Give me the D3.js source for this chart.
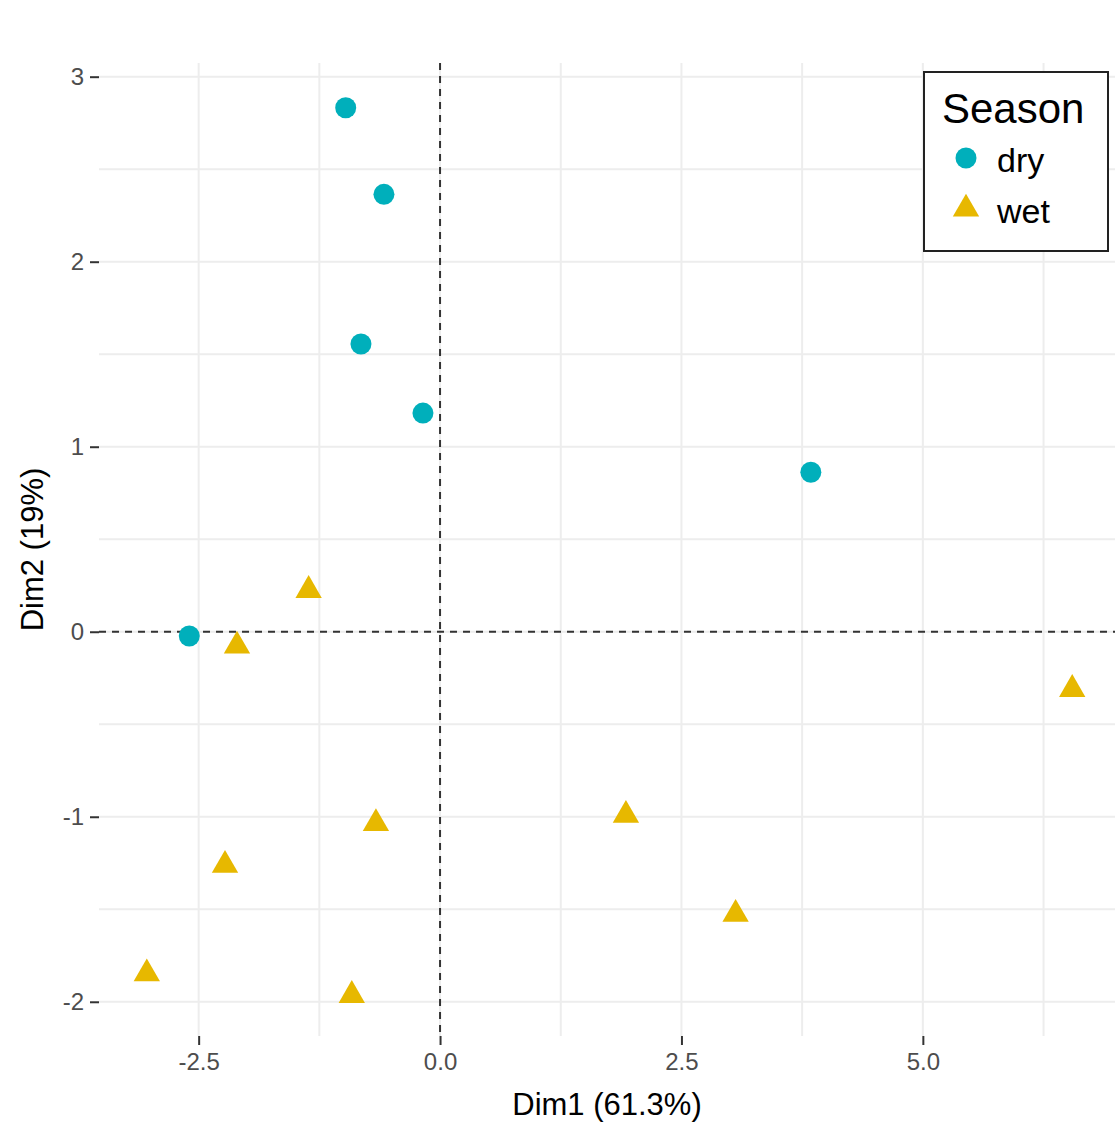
<!DOCTYPE html>
<html>
<head>
<meta charset="utf-8">
<script src="https://cdn.jsdelivr.net/npm/d3@7"></script>
<style>
  body { margin: 0; background: #fff; }
  text { font-family: "Liberation Sans", Arial, sans-serif; }
</style>
</head>
<body>
<svg></svg>
<script>
// data
var seasons = ["dry", "wet"]
var dryDim1 = [-0.977, -0.581, -0.819, -0.177, 3.840, -2.597]
var dryDim2 = [2.832, 2.364, 1.555, 1.182, 0.862, -0.023]
var wetDim1 = [-1.361, -2.103, 6.547, 1.925, -0.664, -2.227, 3.061, -3.037, -0.914]
var wetDim2 = [0.224, -0.077, -0.311, -0.991, -1.036, -1.262, -1.526, -1.848, -1.965]
var xTicks = [-2.5, 0, 2.5, 5]
var xMinor = [-1.25, 1.25, 3.75, 6.25]
var yTicks = [-2, -1, 0, 1, 2, 3]
var yMinor = [-1.5, -0.5, 0.5, 1.5, 2.5]

var colors = {dry: "#00AFBB", wet: "#E7B800"}

var svg = d3.select('svg')
.attr('width', 1119)
.attr('height', 1124)

// panel edges
var pLeft = 99, pRight = 1115, pTop = 63, pBottom = 1036

var x = d3.scaleLinear()
.domain([-3.532, 6.99])
.range([pLeft, pRight]);
var y = d3.scaleLinear()
.domain([-2.185, 3.074])
.range([pBottom, pTop]);

// grid lines
var grid = svg.append('g')
grid.selectAll('.vx')
.data(xTicks.concat(xMinor))
.enter().append('line')
.attr('x1', d => x(d)).attr('x2', d => x(d))
.attr('y1', pTop).attr('y2', pBottom)
.attr('stroke', '#EDEDED')
.attr('stroke-width', 2)
grid.selectAll('.hy')
.data(yTicks.concat(yMinor))
.enter().append('line')
.attr('x1', pLeft).attr('x2', pRight)
.attr('y1', d => y(d)).attr('y2', d => y(d))
.attr('stroke', '#EDEDED')
.attr('stroke-width', 2)

// axes
var xAxis = d3.axisBottom(x)
.tickValues(xTicks)
.tickSize(9)
.tickPadding(8)
.tickFormat(d => d.toFixed(1));
var yAxis = d3.axisLeft(y)
.tickValues(yTicks)
.tickSize(9)
.tickPadding(6)
.tickFormat(d => String(d));

var gx = svg.append('g')
.attr('transform', `translate(0,${pBottom})`)
.call(xAxis)
var gy = svg.append('g')
.attr('transform', `translate(${pLeft},0)`)
.call(yAxis)

;[gx, gy].forEach(function(g) {
  g.select('.domain').remove()
  g.selectAll('.tick line').attr('stroke', '#333').attr('stroke-width', 2)
  g.selectAll('.tick text')
   .attr('fill', '#4D4D4D')
   .style('font-size', '24px')
   .style('font-family', '"Liberation Sans", Arial, sans-serif')
})

// dashed zero lines
svg.append('line')
.attr('x1', pLeft).attr('x2', pRight)
.attr('y1', y(0)).attr('y2', y(0))
.attr('stroke', '#333')
.attr('stroke-width', 2)
.attr('stroke-dasharray', '7,6')
svg.append('line')
.attr('x1', x(0)).attr('x2', x(0))
.attr('y1', pTop).attr('y2', pBottom)
.attr('stroke', '#333')
.attr('stroke-width', 2)
.attr('stroke-dasharray', '7,6')

// points
var dry = dryDim1.map((d, i) => ({d1: d, d2: dryDim2[i]}))
var wet = wetDim1.map((d, i) => ({d1: d, d2: wetDim2[i]}))

svg.append('g').selectAll('circle')
.data(dry)
.enter().append('circle')
.attr('cx', d => x(d.d1))
.attr('cy', d => y(d.d2))
.attr('r', 10.5)
.attr('fill', colors.dry)

var tri = d3.symbol().type(d3.symbolTriangle).size(300)
svg.append('g').selectAll('path')
.data(wet)
.enter().append('path')
.attr('d', tri)
.attr('transform', d => `translate(${x(d.d1)},${y(d.d2)})`)
.attr('fill', colors.wet)

// axis titles
svg.append('text')
.attr('x', (pLeft + pRight) / 2)
.attr('y', 1115)
.style('text-anchor', 'middle')
.style('font-size', '31px')
.text('Dim1 (61.3%)');
svg.append('text')
.attr('transform', `translate(43,${(pTop + pBottom) / 2}) rotate(-90)`)
.style('text-anchor', 'middle')
.style('font-size', '31px')
.text('Dim2 (19%)');

// legend
var legend = svg.append('g')
legend.append('rect')
.attr('x', 924).attr('y', 72)
.attr('width', 184).attr('height', 179)
.attr('fill', '#fff')
.attr('stroke', '#222')
.attr('stroke-width', 2)
legend.append('text')
.attr('x', 942).attr('y', 123)
.style('font-size', '42px')
.text('Season')

legend.append('circle')
.attr('cx', 966).attr('cy', 158)
.attr('r', 10.5)
.attr('fill', colors[seasons[0]])
legend.append('path')
.attr('d', tri)
.attr('transform', 'translate(966,209)')
.attr('fill', colors[seasons[1]])

legend.append('text')
.attr('x', 997).attr('y', 172)
.style('font-size', '34px')
.text(seasons[0])
legend.append('text')
.attr('x', 997).attr('y', 223)
.style('font-size', '34px')
.text(seasons[1])
</script>
</body>
</html>
